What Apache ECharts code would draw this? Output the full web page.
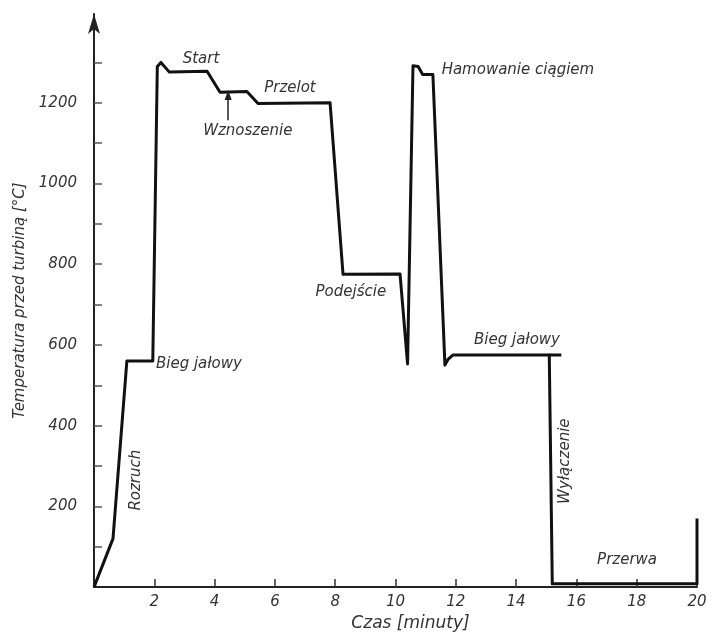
<!DOCTYPE html>
<html>
<head>
<meta charset="utf-8">
<script src="https://cdn.jsdelivr.net/npm/echarts@6/dist/echarts.min.js"></script>
<style>html,body{margin:0;padding:0;background:#fff;}#c{width:713px;height:637px;}</style>
</head>
<body>
<div id="c"></div>
<script>
// Time (minutes) and turbine inlet temperature (°C)
const timeMin = [0, 0.63, 1.09, 1.95, 2.1, 2.22, 2.5, 3.75, 4.18, 5.07, 5.44, 7.83, 8.26, 10.15, 10.4, 10.58, 10.75, 10.9, 11.24, 11.64, 11.75, 11.9, 15.1, 15.2, 20, 20];
const tempC   = [0, 120, 560, 560, 1290, 1300, 1276, 1278, 1226, 1228, 1198, 1200, 775, 776, 553, 1292, 1290, 1270, 1270, 550, 565, 575, 575, 8, 8, 170];
// short overhang of idle line past shutdown
const overhangTime = [15.1, 15.5];
const overhangTemp = [575, 575];

const xTicks = [2, 4, 6, 8, 10, 12, 14, 16, 18, 20];
const yTicks = [100, 200, 300, 400, 500, 600, 700, 800, 900, 1000, 1100, 1200, 1300];
const yLabels = [200, 400, 600, 800, 1000, 1200];

const annText = ['Start', 'Przelot', 'Wznoszenie', 'Podejście', 'Hamowanie ciągiem', 'Bieg jałowy', 'Bieg jałowy', 'Rozruch', 'Wyłączenie', 'Przerwa'];
const annX    = [3.55, 6.5, 5.1, 8.52, 14.06, 3.48, 14.03, 1.4, 15.62, 17.68];
const annY    = [1307, 1236, 1130, 730, 1280, 553, 612, 265, 312, 66];
const annRot  = [0, 0, 0, 0, 0, 0, 0, 90, 90, 0];

const arrowX = [4.45, 4.45];
const arrowY = [1157, 1219];

const FONT = '"DejaVu Sans", sans-serif';
const TXT = '#333';

const chart = echarts.init(document.getElementById('c'));
chart.setOption({
  animation: false,
  backgroundColor: '#fff',
  grid: { left: 94, right: 16, top: 14, bottom: 45 },
  xAxis: {
    type: 'value', min: 0, max: 20,
    name: 'Czas [minuty]', nameLocation: 'middle', nameGap: 24,
    nameTextStyle: { fontFamily: FONT, fontStyle: 'italic', fontSize: 17, color: TXT, padding: [0, 0, 0, 30] },
    axisLine: { show: true, onZero: false, lineStyle: { color: '#222', width: 2 } },
    axisTick: { show: true, inside: true, length: 8, customValues: xTicks, lineStyle: { color: '#333', width: 1.5 } },
    axisLabel: { customValues: xTicks, fontFamily: FONT, fontStyle: 'italic', fontSize: 15, color: TXT, margin: 8, formatter: v => String(v) },
    splitLine: { show: false }
  },
  yAxis: {
    type: 'value', min: 0, max: 1420,
    name: 'Temperatura przed turbiną [°C]', nameLocation: 'middle', nameGap: 60,
    nameTextStyle: { fontFamily: FONT, fontStyle: 'italic', fontSize: 15, color: TXT },
    axisLine: { show: true, onZero: false, symbol: ['none', 'arrow'], symbolSize: [9, 20], lineStyle: { color: '#222', width: 2 } },
    axisTick: { show: true, inside: true, length: 8, customValues: yTicks, lineStyle: { color: '#555', width: 1.5 } },
    axisLabel: { customValues: yLabels, fontFamily: FONT, fontStyle: 'italic', fontSize: 15, color: TXT, margin: 17, formatter: v => String(v) },
    splitLine: { show: false }
  },
  series: [
    {
      type: 'line', data: timeMin.map((t, i) => [t, tempC[i]]),
      showSymbol: false, symbol: 'none',
      lineStyle: { color: '#111', width: 3, join: 'round' },
      markLine: {
        silent: true, symbol: ['none', 'triangle'], symbolSize: [7, 10],
        label: { show: false },
        lineStyle: { color: '#222', width: 1.5, type: 'solid' },
        data: [[{ coord: [arrowX[0], arrowY[0]] }, { coord: [arrowX[1], arrowY[1]] }]]
      }
    },
    {
      type: 'line', data: overhangTime.map((t, i) => [t, overhangTemp[i]]),
      showSymbol: false, symbol: 'none',
      lineStyle: { color: '#111', width: 3 }
    }
  ]
});

const els = annText.map((txt, i) => {
  const p = chart.convertToPixel({ gridIndex: 0 }, [annX[i], annY[i]]);
  return {
    type: 'text', x: p[0], y: p[1], rotation: annRot[i] * Math.PI / 180,
    style: { text: txt, fill: TXT, font: 'italic 15px ' + FONT, align: 'center', verticalAlign: 'middle' }
  };
});
chart.setOption({ graphic: els });
</script>
</body>
</html>
